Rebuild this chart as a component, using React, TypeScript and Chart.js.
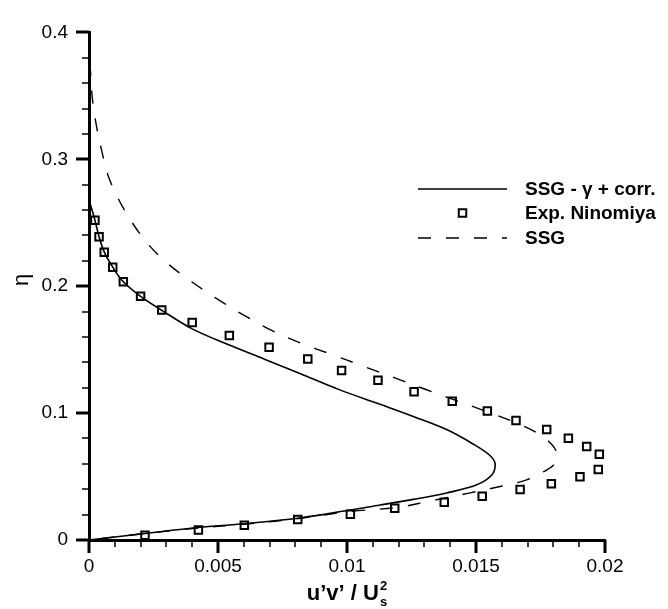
import React, { useEffect, useRef } from "react";
import { Chart, registerables } from "chart.js";

Chart.register(...registerables);

// ---------- data ----------
const expX = [0.00023, 0.00039, 0.00059, 0.00092, 0.00133, 0.002, 0.00282, 0.004, 0.00544, 0.00698, 0.00848, 0.00979, 0.0112, 0.0126, 0.01408, 0.01544, 0.01655, 0.01774, 0.01858, 0.01929, 0.01978, 0.01974, 0.01903, 0.01792, 0.01671, 0.01524, 0.01377, 0.01185, 0.01013, 0.00809, 0.00602, 0.00424, 0.00217];
const expY = [0.252, 0.239, 0.2267, 0.215, 0.2035, 0.1921, 0.1812, 0.1714, 0.1612, 0.1518, 0.1426, 0.1336, 0.1259, 0.1169, 0.1093, 0.1016, 0.0942, 0.087, 0.0801, 0.0737, 0.0676, 0.0555, 0.0499, 0.0443, 0.0397, 0.0345, 0.0297, 0.0251, 0.0202, 0.0161, 0.0117, 0.0079, 0.0038];

const corrX = [0, 0.00023, 0.00039, 0.00059, 0.00092, 0.00133, 0.002, 0.00282, 0.004, 0.00544, 0.0068, 0.0082, 0.0097, 0.01128, 0.01257, 0.01386, 0.0149, 0.01554, 0.01574, 0.01561, 0.01503, 0.01386, 0.01257, 0.01128, 0.01013, 0.00809, 0.00602, 0.00424, 0.00217, 0];
const corrY = [0.268, 0.252, 0.239, 0.227, 0.215, 0.2035, 0.192, 0.181, 0.1664, 0.1536, 0.1425, 0.131, 0.1185, 0.1069, 0.0973, 0.087, 0.0755, 0.0666, 0.0601, 0.0512, 0.0435, 0.0371, 0.032, 0.0276, 0.0236, 0.0171, 0.0128, 0.0098, 0.0051, 0];

const ssgX = [0, 0.00004, 0.00013, 0.0003, 0.00049, 0.00075, 0.00114, 0.00165, 0.0023, 0.00307, 0.00398, 0.00501, 0.00605, 0.00708, 0.00824, 0.00941, 0.0106, 0.0118, 0.013, 0.01408, 0.01544, 0.01658, 0.01748, 0.01793, 0.01812, 0.01815, 0.018, 0.01761, 0.01696, 0.01593, 0.01477, 0.01322, 0.01193, 0.01013, 0.008, 0.006, 0.0042, 0.0021, 0];
const ssgY = [0.376, 0.3737, 0.348, 0.325, 0.307, 0.2866, 0.2687, 0.2508, 0.2329, 0.2175, 0.2035, 0.1894, 0.1766, 0.1651, 0.1549, 0.1462, 0.1372, 0.1282, 0.119, 0.111, 0.101, 0.0921, 0.0831, 0.0755, 0.0695, 0.0645, 0.0589, 0.0537, 0.0474, 0.0422, 0.0371, 0.0307, 0.0256, 0.0225, 0.0166, 0.0124, 0.0094, 0.005, 0];

const seriesLabels = ["SSG - \u03b3 + corr.", "Exp. Ninomiya", "SSG"];
const xTickLabels = ["0", "0.005", "0.01", "0.015", "0.02"];
const yTickLabels = ["0", "0.1", "0.2", "0.3", "0.4"];
const xTitle = "u\u2019v\u2019 / U";
const xTitleSup = "2";
const xTitleSub = "s";
const yTitle = "\u03b7";

const X_MAJOR = 0.005;
const Y_MAJOR = 0.1;

const FONT = "'Liberation Sans', Arial, Helvetica, sans-serif";

const toPts = (xs: number[], ys: number[]) => xs.map((x, i) => ({ x, y: ys[i] }));

const majorIndex = (v: number, step: number) => {
  const r = v / step;
  const k = Math.round(r);
  return Math.abs(r - k) < 1e-6 ? k : -1;
};

const decorPlugin = {
  id: "decor",
  afterDraw(chart: any) {
    const ctx = chart.ctx as CanvasRenderingContext2D;
    const xs = chart.scales.x;
    const ys = chart.scales.y;
    const { left, right, bottom } = chart.chartArea;
    ctx.save();
    ctx.strokeStyle = "#000";
    ctx.fillStyle = "#000";
    ctx.lineCap = "butt";
    // ticks
    xs.ticks.forEach((t: any) => {
      const major = majorIndex(t.value, X_MAJOR) >= 0;
      const px = Math.round(xs.getPixelForValue(t.value));
      ctx.lineWidth = major ? 3 : 1.5;
      ctx.beginPath();
      ctx.moveTo(px, bottom);
      ctx.lineTo(px, bottom + (major ? 13 : 7));
      ctx.stroke();
    });
    ys.ticks.forEach((t: any) => {
      const major = majorIndex(t.value, Y_MAJOR) >= 0;
      const py = Math.round(ys.getPixelForValue(t.value));
      ctx.lineWidth = major ? 3 : 1.5;
      ctx.beginPath();
      ctx.moveTo(left, py);
      ctx.lineTo(left - (major ? 13 : 7), py);
      ctx.stroke();
    });

    // x title with super/subscript
    ctx.textBaseline = "alphabetic";
    ctx.textAlign = "left";
    ctx.font = `bold 22px ${FONT}`;
    const w = ctx.measureText(xTitle).width;
    ctx.font = `bold 13px ${FONT}`;
    const ws = Math.max(ctx.measureText(xTitleSup).width, ctx.measureText(xTitleSub).width);
    const cx = (left + right) / 2;
    const x0 = cx - (w + ws + 1) / 2;
    const base = 600;
    ctx.font = `bold 22px ${FONT}`;
    ctx.fillText(xTitle, x0, base);
    ctx.font = `bold 13px ${FONT}`;
    ctx.fillText(xTitleSup, x0 + w + 1, base - 10);
    ctx.fillText(xTitleSub, x0 + w + 1, base + 6);

    // y title (rotated)
    ctx.save();
    ctx.translate(22, 280);
    ctx.rotate(-Math.PI / 2);
    ctx.font = `22px ${FONT}`;
    ctx.textAlign = "center";
    ctx.textBaseline = "middle";
    ctx.fillText(yTitle, 0, 0);
    ctx.restore();

    // legend
    const rows = [189, 213, 238];
    const lx0 = 418, lx1 = 507, tx = 525;
    chart.data.datasets.forEach((ds: any, i: number) => {
      const y = rows[i];
      ctx.save();
      if (ds.showLine) {
        ctx.strokeStyle = ds.borderColor;
        ctx.lineWidth = ds.borderWidth;
        ctx.setLineDash(ds.borderDash || []);
        ctx.beginPath();
        ctx.moveTo(lx0, y);
        ctx.lineTo(lx1, y);
        ctx.stroke();
      } else {
        const s = ds.pointRadius * Math.SQRT1_2;
        ctx.strokeStyle = ds.pointBorderColor;
        ctx.lineWidth = ds.pointBorderWidth;
        ctx.strokeRect((lx0 + lx1) / 2 - s, y - s, 2 * s, 2 * s);
      }
      ctx.restore();
      ctx.font = `bold 19px ${FONT}`;
      ctx.textAlign = "left";
      ctx.textBaseline = "middle";
      ctx.fillText(ds.label, tx, y + 1);
    });
    ctx.restore();
  },
};

export default function App() {
  const ref = useRef<HTMLCanvasElement | null>(null);
  useEffect(() => {
    document.body.style.margin = "0";
    const canvas = ref.current!;
    const chart = new Chart(canvas, {
      type: "scatter",
      data: {
        datasets: [
          {
            label: seriesLabels[0],
            data: toPts(corrX, corrY),
            showLine: true,
            borderColor: "#000",
            borderWidth: 1.6,
            pointRadius: 0,
            tension: 0.35,
            fill: false,
          } as any,
          {
            label: seriesLabels[1],
            data: toPts(expX, expY),
            showLine: false,
            pointStyle: "rect",
            pointRadius: 5.3,
            pointBorderWidth: 2,
            pointBorderColor: "#000",
            pointBackgroundColor: "rgba(0,0,0,0)",
            borderColor: "#000",
          } as any,
          {
            label: seriesLabels[2],
            data: toPts(ssgX, ssgY),
            showLine: true,
            borderColor: "#000",
            borderWidth: 1.4,
            borderDash: [13, 15],
            pointRadius: 0,
            tension: 0.35,
            fill: false,
          } as any,
        ],
      },
      options: {
        responsive: false,
        animation: false,
        devicePixelRatio: 1,
        layout: { padding: { top: 19, right: 63, left: 0, bottom: 0 } },
        plugins: { legend: { display: false }, tooltip: { enabled: false } },
        scales: {
          x: {
            type: "linear",
            min: 0,
            max: 0.02,
            grid: { display: false, drawTicks: false },
            border: { display: true, color: "#000", width: 3 },
            ticks: {
              stepSize: 0.001,
              maxTicksLimit: 100,
              autoSkip: false,
              maxRotation: 0,
              padding: 15,
              color: "#000",
              font: { family: FONT, size: 19 },
              callback: (v: any) => {
                const k = majorIndex(Number(v), X_MAJOR);
                return k >= 0 ? xTickLabels[k] : "";
              },
            },
            afterFit: (s: any) => {
              s.height = 69;
            },
          },
          y: {
            type: "linear",
            min: 0,
            max: 0.4,
            grid: { display: false, drawTicks: false },
            border: { display: true, color: "#000", width: 3 },
            ticks: {
              stepSize: 0.02,
              maxTicksLimit: 100,
              autoSkip: false,
              padding: 21,
              color: "#000",
              font: { family: FONT, size: 19 },
              callback: (v: any) => {
                const k = majorIndex(Number(v), Y_MAJOR);
                return k >= 0 ? yTickLabels[k] : "";
              },
            },
            afterFit: (s: any) => {
              s.width = 89;
            },
          },
        },
      } as any,
      plugins: [decorPlugin],
    });
    return () => chart.destroy();
  }, []);
  return (
    <div style={{ width: 668, height: 609 }}>
      <canvas ref={ref} width={668} height={609} style={{ display: "block" }} />
    </div>
  );
}
